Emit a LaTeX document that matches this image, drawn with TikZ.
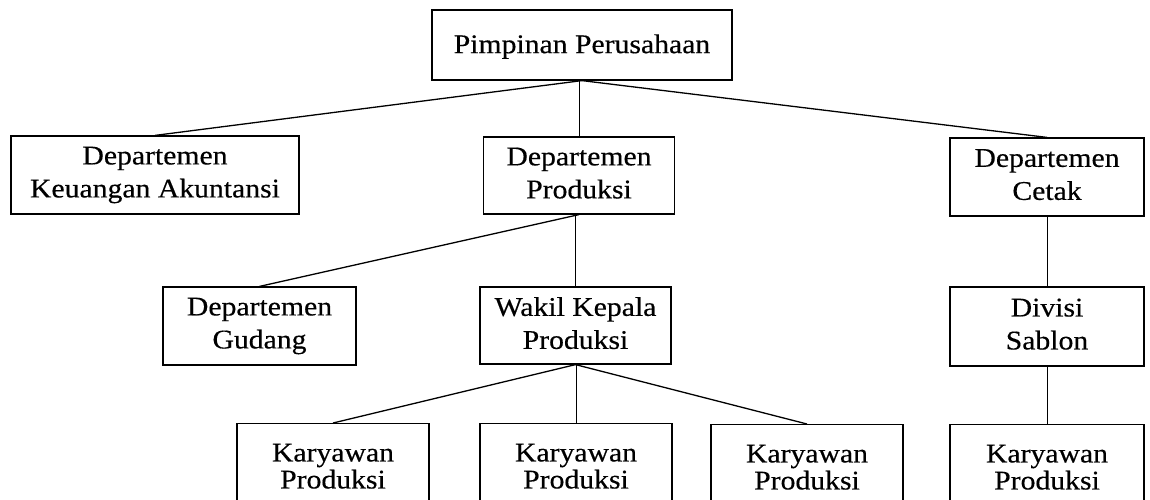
\documentclass[tikz,border=0pt]{standalone}
\usepackage{fontspec}
\setmainfont{Liberation Serif}[FakeStretch=1.1,FakeBold=0.4]
\begin{document}
\begin{tikzpicture}[x=1pt,y=-1pt,
  box/.style={draw=black, line width=1.2pt, rectangle, inner sep=0pt, align=center,
    font=\fontsize{27pt}{33pt}\selectfont,
    execute at begin node=\rule{0pt}{22pt},
    execute at end node=\rule[-5pt]{0pt}{5pt}},
  lowbox/.style={box, anchor=north, minimum width=192pt, minimum height=90pt,
    font=\fontsize{27pt}{27pt}\selectfont,
    execute at begin node=\rule{0pt}{20pt},
    execute at end node=\rule[-5pt]{0pt}{5pt}},
  slant/.style={line width=1.3pt},
  vert/.style={line width=0.9pt}]
\clip (0,0) rectangle (1150,499);
\fill[white] (0,0) rectangle (1150,499);
\node[box, minimum width=300pt, minimum height=70pt] (top) at (582,45) {Pimpinan Perusahaan};
\node[box, minimum width=288pt, minimum height=78pt] (keu) at (155,175) {Departemen\\Keuangan Akuntansi};
\node[box, minimum width=191pt, minimum height=77pt] (prod) at (579,175.5) {Departemen\\Produksi};
\node[box, minimum width=194pt, minimum height=78pt] (cetak) at (1047,177) {Departemen\\Cetak};
\node[box, minimum width=193pt, minimum height=78pt] (gudang) at (259.5,326) {Departemen\\Gudang};
\node[box, minimum width=191pt, minimum height=77pt] (wakil) at (575.5,325.5) {Wakil Kepala\\Produksi};
\node[box, minimum width=194pt, minimum height=79pt] (divisi) at (1047,326.5) {Divisi\\Sablon};
\node[lowbox] (k1) at (333,423) {Karyawan\\Produksi};
\node[lowbox] (k2) at (576,423) {Karyawan\\Produksi};
\node[lowbox] (k3) at (807,424) {Karyawan\\Produksi};
\node[lowbox, minimum width=194pt] (k4) at (1047,424) {Karyawan\\Produksi};
\draw[slant] (top.south) -- (keu.north);
\draw[vert] (prod.north |- top.south) -- (prod.north);
\draw[slant] (top.south) -- (cetak.north);
\draw[slant] (prod.south) -- (gudang.north);
\draw[vert] (wakil.north |- prod.south) -- (wakil.north);
\draw[vert] (divisi.north |- cetak.south) -- (divisi.north);
\draw[slant] (wakil.south) -- (k1.north);
\draw[vert] (k2.north |- wakil.south) -- (k2.north);
\draw[slant] (wakil.south) -- (k3.north);
\draw[vert] (k4.north |- divisi.south) -- (k4.north);
\end{tikzpicture}
\end{document}
